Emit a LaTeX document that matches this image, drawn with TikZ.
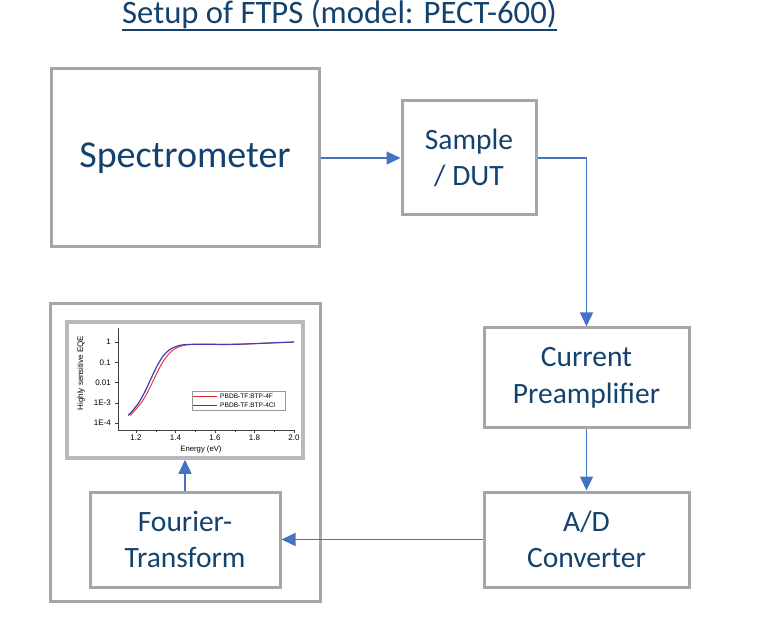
\documentclass[tikz,border=0pt]{standalone}
\usepackage{fontspec}
\setmainfont{Carlito}
\newfontfamily\plotfont{Liberation Sans}
\usetikzlibrary{arrows.meta, calc, positioning}
\definecolor{textblue}{RGB}{20,66,110}
\definecolor{arrowblue}{RGB}{68,114,196}
\definecolor{boxgray}{RGB}{166,166,166}
\definecolor{framegray}{RGB}{185,185,185}
\definecolor{curvered}{RGB}{220,45,45}
\definecolor{curveblue}{RGB}{70,60,175}

\begin{document}
\begin{tikzpicture}[
    x=1pt, y=-1pt,
    box/.style={rectangle, draw=boxgray, line width=3pt, align=center, text=textblue,
                font=\fontsize{29.5}{36.5}\selectfont, inner sep=0pt},
    arr/.style={-{Triangle[length=14pt, width=13pt]}, draw=arrowblue, line width=1.4pt},
    ticklbl/.style={font=\plotfont\fontsize{8}{9}\selectfont, inner sep=1pt},
    leglbl/.style={font=\plotfont\fontsize{6.6}{7}\selectfont, inner sep=0pt, anchor=west}
]
\useasboundingbox (0,0) rectangle (761,620);

% Title, underlined by hand
\node[font=\fontsize{32.7}{36}\selectfont, text=textblue, inner sep=0pt, anchor=base]
  (title) at (339.5,23.5) {Setup of FTPS (model: PECT-600)};
\draw[textblue, line width=1.8pt] ($(title.base west)+(0,6.5)$) -- ($(title.base east)+(0,6.5)$);

% Signal chain
\node[box, minimum width=268pt, minimum height=178pt, font=\fontsize{38}{44}\selectfont]
  (spec) at (185,158) {Spectrometer};
\node[box, minimum width=134pt, minimum height=114pt] (sample) at (469,158) {Sample\\/ DUT};
\node[box, minimum width=205pt, minimum height=100pt] (preamp) at (586.5,378) {Current\\Preamplifier};
\node[box, minimum width=205pt, minimum height=95pt] (adc) at (586.5,539.5) {A/D\\Converter};

% Output frame: Fourier transform plus the resulting EQE spectrum
\node[box, minimum width=270pt, minimum height=297pt] (ftbox) at (185,452.5) {};
\node[box, minimum width=190pt, minimum height=95pt] (fourier) at (185,539.5) {Fourier-\\Transform};
\node[draw=framegray, line width=3.5pt, minimum width=236pt, minimum height=136pt, inner sep=0pt]
  (eqeplot) at (185,390) {};

\draw[arr] (spec.east) -- (sample.west);
\draw[arr] (sample.east) -| (preamp.north);
\draw[arr] (preamp.south) -- (adc.north);
\draw[arr] (adc.west) -- (fourier.east);
\draw[arr] (fourier.north) -- (eqeplot.south);

% EQE plot: x in eV, y in log10(EQE)
\begin{scope}[shift={(-101pt,-342pt)}, x=197.5pt, y=20.3pt]
  \draw[black!75, line width=0.6pt] (1.109,0.69) -- (1.109,-4.33) -- (2.0,-4.33);
  \foreach \e [count=\i] in {1.2,1.4,1.6,1.8,2.0} {
    \draw[black!75, line width=0.6pt] (\e,-4.33) -- ++(0,-3pt);
    \node[ticklbl, anchor=north] (xt\i) at ($(\e,-4.33)+(0,-4pt)$) {\e};
  }
  \foreach \e in {1.3,1.5,1.7,1.9}
    \draw[black!75, line width=0.5pt] (\e,-4.33) -- ++(0,-2pt);
  \foreach \l/\t [count=\i] in {0/1, -1/0.1, -2/0.01, -3/1E-3, -4/1E-4} {
    \draw[black!75, line width=0.6pt] (1.109,\l) -- ++(-3pt,0);
    \node[ticklbl, anchor=east] (yt\i) at ($(1.109,\l)+(-6pt,0)$) {\t};
  }
  \draw[curvered, line width=0.9pt] plot[smooth] coordinates {
    (1.17,-3.62) (1.20,-3.3) (1.23,-2.95) (1.26,-2.45) (1.29,-1.85) (1.32,-1.25)
    (1.35,-0.78) (1.38,-0.45) (1.41,-0.27) (1.44,-0.17) (1.48,-0.12) (1.55,-0.11)
    (1.65,-0.12) (1.75,-0.10) (1.85,-0.06) (1.95,-0.02) (2.0,0)};
  \draw[curveblue, line width=1.2pt] plot[smooth] coordinates {
    (1.16,-3.62) (1.19,-3.3) (1.22,-2.9) (1.25,-2.35) (1.28,-1.72) (1.31,-1.12)
    (1.34,-0.66) (1.37,-0.38) (1.40,-0.23) (1.43,-0.15) (1.47,-0.12) (1.55,-0.11)
    (1.65,-0.12) (1.75,-0.10) (1.85,-0.06) (1.95,-0.02) (2.0,0)};
\end{scope}
\node[font=\plotfont\fontsize{7.7}{8}\selectfont, inner sep=0pt] (xlbl) at (201,450) {Energy (eV)};
\node[font=\plotfont\fontsize{8}{9}\selectfont, inner sep=0pt, rotate=90] (ylbl) at (81,373) {Highly sensitive EQE};

% Legend
\node[draw=black!40, line width=0.4pt, minimum width=93pt, minimum height=19pt, inner sep=0pt]
  (legend) at (238.5,400.5) {};
\coordinate (redA) at (193,396.5);
\coordinate (blueA) at (193,405.5);
\draw[curvered, line width=0.9pt] (redA) -- ++(24,0) coordinate (redB);
\draw[curveblue, line width=1.2pt] (blueA) -- ++(24,0) coordinate (blueB);
\node[leglbl] (leg1) at ($(redB)+(3,0)$) {PBDB-TF:BTP-4F};
\node[leglbl] (leg2) at ($(blueB)+(3,0)$) {PBDB-TF:BTP-4Cl};
\end{tikzpicture}
\end{document}
